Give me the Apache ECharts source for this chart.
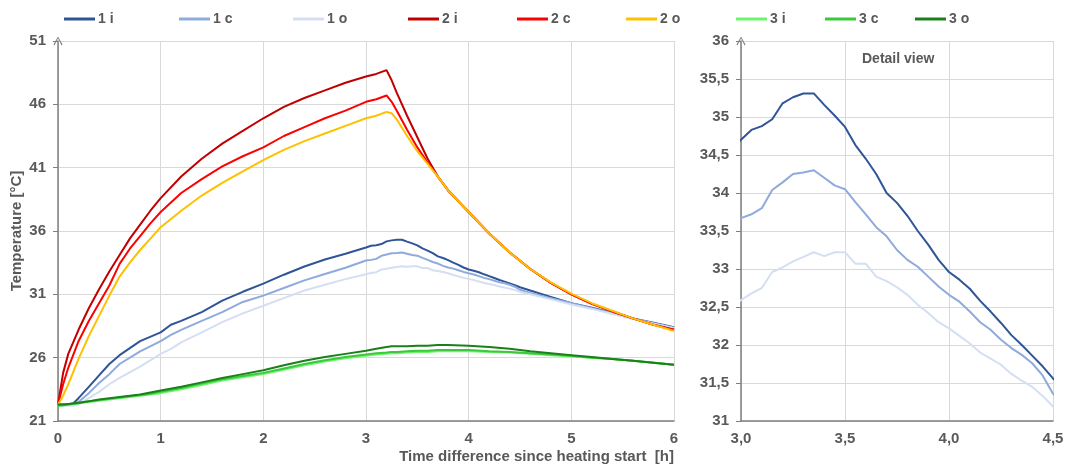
<!DOCTYPE html>
<html>
<head>
<meta charset="utf-8">
<script src="https://cdn.jsdelivr.net/npm/echarts@6/dist/echarts.min.js"></script>
<style>html,body{margin:0;padding:0;background:#fff}#c{width:1067px;height:468px}</style>
</head>
<body>
<div id="c"></div>
<script>
// ---------- data ----------
const seriesNames = ['1 i','1 c','1 o','2 i','2 c','2 o','3 i','3 c','3 o'];
const xTicksMain = [0,1,2,3,4,5,6];
const yTicksMain = [21,26,31,36,41,46,51];

const hours1 = [0,0.1,0.15,0.2,0.3,0.4,0.5,0.6,0.8,1.0,1.1,1.2,1.4,1.6,1.8,2.0,2.2,2.4,2.6,2.8,
  3.0,3.05,3.1,3.15,3.2,3.25,3.3,3.35,3.4,3.45,3.5,3.55,3.6,3.65,3.7,3.75,3.8,3.85,3.9,3.95,
  4.0,4.05,4.1,4.15,4.2,4.25,4.3,4.35,4.4,4.45,4.5,4.6,4.8,5.0,5.2,5.4,5.6,5.8,6.0];
const temp1i = [22.3,22.3,22.4,22.8,23.7,24.6,25.5,26.2,27.3,28.0,28.6,28.9,29.6,30.5,31.2,31.85,32.55,33.2,33.75,34.2,
  34.70,34.83,34.88,34.97,35.18,35.26,35.31,35.31,35.16,35.02,34.87,34.63,34.45,34.25,34.0,33.87,33.7,33.5,33.32,33.12,
  32.96,32.86,32.74,32.58,32.44,32.29,32.13,32.0,31.86,31.72,31.56,31.3,30.8,30.3,29.95,29.55,29.1,28.75,28.4];
const temp1c = [22.3,22.3,22.3,22.5,23.2,24.0,24.7,25.5,26.5,27.3,27.8,28.2,28.9,29.6,30.4,30.9,31.5,32.1,32.6,33.1,
  33.67,33.72,33.8,34.04,34.14,34.25,34.27,34.3,34.2,34.1,34.05,33.88,33.72,33.55,33.43,33.25,33.12,33.03,32.9,32.77,
  32.66,32.57,32.44,32.3,32.2,32.07,31.96,31.87,31.76,31.6,31.36,31.1,30.7,30.3,29.9,29.5,29.1,28.7,28.35];
const temp1o = [22.2,22.2,22.2,22.3,22.8,23.3,23.9,24.4,25.3,26.3,26.7,27.2,28.0,28.8,29.5,30.1,30.7,31.3,31.75,32.2,
  32.59,32.68,32.75,32.96,33.02,33.1,33.16,33.22,33.17,33.22,33.22,33.07,33.07,32.9,32.84,32.76,32.66,32.53,32.42,32.3,
  32.22,32.12,32.02,31.9,31.82,31.74,31.62,31.53,31.45,31.33,31.19,31.0,30.6,30.2,29.85,29.45,29.05,28.7,28.35];

const hours23 = [0,0.05,0.1,0.2,0.3,0.4,0.5,0.6,0.7,0.8,0.9,1.0,1.2,1.4,1.6,1.8,2.0,2.2,2.4,2.6,2.8,3.0,
  3.1,3.2,3.25,3.3,3.4,3.5,3.6,3.7,3.8,4.0,4.2,4.4,4.6,4.8,5.0,5.2,5.4,5.6,5.8,6.0];
const temp2i = [22.3,24.8,26.3,28.2,29.9,31.4,32.8,34.1,35.4,36.5,37.6,38.6,40.3,41.7,42.9,43.9,44.9,45.8,46.5,47.1,47.7,48.2,
  48.4,48.7,47.9,46.9,45.1,43.4,41.7,40.3,39.2,37.5,35.8,34.3,33.0,31.9,31.0,30.25,29.65,29.1,28.6,28.2];
const temp2c = [22.3,23.9,25.2,27.3,28.9,30.3,31.7,33.4,34.6,35.6,36.6,37.5,39.0,40.1,41.1,41.9,42.6,43.5,44.2,44.9,45.5,46.2,
  46.4,46.7,46.2,45.5,44.0,42.6,41.4,40.3,39.2,37.5,35.8,34.3,33.0,31.9,31.0,30.25,29.65,29.1,28.6,28.2];
const temp2o = [22.3,23.0,23.9,25.9,27.7,29.3,30.9,32.4,33.5,34.5,35.4,36.3,37.6,38.8,39.8,40.7,41.6,42.4,43.1,43.7,44.3,44.9,
  45.1,45.4,45.3,44.8,43.5,42.3,41.3,40.3,39.2,37.5,35.8,34.3,33.0,31.95,31.05,30.3,29.7,29.1,28.6,28.1];
const temp3i = [22.2,22.25,22.3,22.4,22.5,22.6,22.7,22.8,22.9,23.0,23.1,23.2,23.5,23.85,24.2,24.45,24.7,25.05,25.4,25.7,25.95,26.15,
  26.25,26.3,26.35,26.35,26.4,26.45,26.45,26.5,26.5,26.5,26.45,26.4,26.3,26.2,26.1,26.0,25.9,25.75,25.6,25.45];
const temp3c = [22.2,22.25,22.3,22.4,22.55,22.65,22.75,22.85,22.95,23.05,23.15,23.3,23.6,23.95,24.3,24.55,24.8,25.15,25.5,25.8,26.05,26.25,
  26.35,26.4,26.45,26.45,26.5,26.55,26.55,26.6,26.6,26.6,26.5,26.45,26.35,26.25,26.15,26.0,25.9,25.75,25.6,25.45];
const temp3o = [22.3,22.3,22.35,22.45,22.55,22.7,22.8,22.9,23.0,23.1,23.25,23.4,23.7,24.05,24.4,24.7,25.0,25.4,25.75,26.05,26.3,26.55,
  26.7,26.85,26.9,26.9,26.9,26.95,26.95,27.0,27.0,26.95,26.85,26.7,26.5,26.35,26.2,26.05,25.9,25.75,25.6,25.45];

// ---------- style ----------
const colors = ['#2f5597','#8faadc','#d4dff3','#c00000','#ff0000','#ffc000','#6cf56c','#3cc83c','#1a801a'];
const FONT = '"Liberation Sans", Arial, sans-serif';
const TXT = '#595959';
const GRID = '#d9d9d9';
const AXIS = '#7f7f7f';
const arrow = 'path://M5,0 L10,9 L9,10 L5,2 L1,10 L0,9 Z';
const legendX = [64,179,293,408,517,626,736,825,915];

const pairs = (xs, ys) => xs.map((x, i) => [x, ys[i]]);
const allData = [
  pairs(hours1, temp1i), pairs(hours1, temp1c), pairs(hours1, temp1o),
  pairs(hours23, temp2i), pairs(hours23, temp2c), pairs(hours23, temp2o),
  pairs(hours23, temp3i), pairs(hours23, temp3c), pairs(hours23, temp3o)
];

const series = [];
seriesNames.forEach((n, i) => {
  series.push({
    name: n, type: 'line', xAxisIndex: 0, yAxisIndex: 0, data: allData[i],
    showSymbol: false, symbol: 'none', lineStyle: { width: 2, color: colors[i] }, itemStyle: { color: colors[i] },
    animation: false
  });
});
for (let i = 0; i < 3; i++) {
  series.push({
    name: seriesNames[i], type: 'line', xAxisIndex: 1, yAxisIndex: 1, data: allData[i],
    showSymbol: false, symbol: 'none', clip: true, lineStyle: { width: 2, color: colors[i] }, itemStyle: { color: colors[i] },
    animation: false
  });
}

const legends = seriesNames.map((n, i) => ({
  data: [n], left: legendX[i], top: 12, padding: 0, icon: 'rect', itemWidth: 31, itemHeight: 3, itemGap: 0,
  textStyle: { color: TXT, fontWeight: 'bold', fontSize: 14, fontFamily: FONT, padding: [0, 0, 0, -2] }
}));

const labelStyle = { color: TXT, fontWeight: 'bold', fontSize: 15, fontFamily: FONT };
const comma = v => String(v).replace('.', ',');

const option = {
  animation: false,
  backgroundColor: '#fff',
  legend: legends,
  grid: [
    { left: 58, right: 393, top: 41, bottom: 47, containLabel: false, outerBoundsMode: 'none' },
    { left: 741, right: 14, top: 41, bottom: 47, containLabel: false, outerBoundsMode: 'none' }
  ],
  graphic: [{
    type: 'text', left: 862, top: 52,
    style: { text: 'Detail view', fill: TXT, font: 'bold 14px ' + FONT }
  }],
  xAxis: [
    {
      type: 'value', gridIndex: 0, min: xTicksMain[0], max: xTicksMain[xTicksMain.length - 1], interval: 1,
      axisLine: { show: true, lineStyle: { color: AXIS, width: 1.5 } },
      axisTick: { show: false },
      axisLabel: Object.assign({ margin: 10 }, labelStyle),
      splitLine: { show: true, lineStyle: { color: GRID } },
      name: 'Time difference since heating start  [h]', nameLocation: 'end', nameGap: 0, nameMoveOverlap: false,
      nameTextStyle: { color: TXT, fontWeight: 'bold', fontSize: 15, fontFamily: FONT, align: 'right', verticalAlign: 'top', padding: [28, 0, 0, 0] }
    },
    {
      type: 'value', gridIndex: 1, min: 3, max: 4.5, interval: 0.5,
      axisLine: { show: true, lineStyle: { color: AXIS, width: 1.5 } },
      axisTick: { show: false },
      axisLabel: Object.assign({ margin: 10, formatter: v => v.toFixed(1).replace('.', ',') }, labelStyle),
      splitLine: { show: true, lineStyle: { color: GRID } }
    }
  ],
  yAxis: [
    {
      type: 'value', gridIndex: 0, min: yTicksMain[0], max: yTicksMain[yTicksMain.length - 1], interval: 5,
      axisLine: { show: true, lineStyle: { color: AXIS, width: 1.5 }, symbol: ['none', arrow], symbolSize: [9, 9] },
      axisTick: { show: true, length: 5, lineStyle: { color: AXIS } },
      axisLabel: Object.assign({ margin: 12 }, labelStyle),
      splitLine: { show: true, lineStyle: { color: GRID } },
      name: 'Temperature [°C]', nameLocation: 'middle', nameGap: 34, nameMoveOverlap: false,
      nameTextStyle: { color: TXT, fontWeight: 'bold', fontSize: 15, fontFamily: FONT }
    },
    {
      type: 'value', gridIndex: 1, min: 31, max: 36, interval: 0.5,
      axisLine: { show: true, lineStyle: { color: AXIS, width: 1.5 }, symbol: ['none', arrow], symbolSize: [9, 9] },
      axisTick: { show: true, length: 5, lineStyle: { color: AXIS } },
      axisLabel: Object.assign({ margin: 12, formatter: comma }, labelStyle),
      splitLine: { show: true, lineStyle: { color: GRID } }
    }
  ],
  series: series
};

const chart = echarts.init(document.getElementById('c'), null, { renderer: 'canvas' });
chart.setOption(option);
</script>
</body>
</html>
